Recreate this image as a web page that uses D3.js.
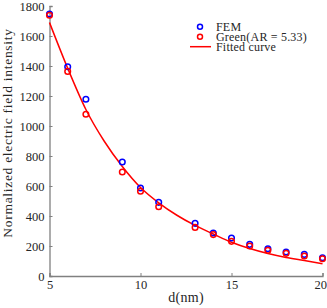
<!DOCTYPE html>
<html><head><meta charset="utf-8">
<script src="https://cdn.jsdelivr.net/npm/d3@7"></script>
<style>body{margin:0;background:#fff}svg{display:block}</style>
</head><body>
<script>
const xValues = [5, 6, 7, 9, 10, 11, 13, 14, 15, 16, 17, 18, 19, 20];
const femValues = [1747, 1395, 1178, 760, 587, 491, 351, 287, 253, 211, 182, 160, 144, 122];
const greenValues = [1738, 1364, 1078, 693, 565, 462, 324, 276, 231, 200, 171, 151, 133, 115];
const fitX = [5, 6, 7, 8, 9, 10, 11, 12, 13, 14, 15, 16, 17, 18, 19, 20];
const fitValues = [1690, 1385, 1110, 900, 730, 590, 488, 405, 337, 280, 225, 183, 150, 124, 104, 82];
const xTicks = [5, 10, 15, 20];
const yTicks = [0, 200, 400, 600, 800, 1000, 1200, 1400, 1600, 1800];
const legendLabels = ["FEM", "Green(AR = 5.33)", "Fitted curve"];

const W = 327, H = 308;
const svg = d3.select("body").append("svg").attr("width", W).attr("height", H);
const font = "'Liberation Serif', 'DejaVu Serif', serif";
const x = d3.scaleLinear().domain([5, 20]).range([49.5, 322.5]);
const y = d3.scaleLinear().domain([0, 1800]).range([276, 6]);
const axisColor = "#808080", textColor = "#262626";

// axes
const xAxis = svg.append("g").attr("transform", `translate(0,${y(0)})`)
  .call(d3.axisBottom(x).tickValues(xTicks).tickSize(-3).tickPadding(5).tickFormat(d3.format("d")));
const yAxis = svg.append("g").attr("transform", `translate(${x(5)},0)`)
  .call(d3.axisLeft(y).tickValues(yTicks).tickSize(-3).tickPadding(5).tickFormat(d3.format("d")));
[xAxis, yAxis].forEach(g => {
  g.select(".domain").attr("stroke", axisColor).attr("stroke-width", 1.3);
  g.selectAll(".tick line").attr("stroke", axisColor);
  g.selectAll("text").attr("fill", textColor).style("font-family", font).style("font-size", "12.5px");
});
xAxis.selectAll(".tick text").attr("dy", "0.6em");
xAxis.selectAll(".tick text").filter(d => d === 20).attr("text-anchor", "end").attr("x", 4);

// fitted curve
const line = d3.line().x((d, i) => x(fitX[i])).y(d => y(d)).curve(d3.curveMonotoneX);
svg.append("path").datum(fitValues).attr("d", line)
  .attr("fill", "none").attr("stroke", "#ff0000").attr("stroke-width", 1.5);

// points
svg.append("g").selectAll("circle").data(femValues).join("circle")
  .attr("cx", (d, i) => x(xValues[i])).attr("cy", d => y(d)).attr("r", 2.8)
  .attr("fill", "none").attr("stroke", "#0000ff").attr("stroke-width", 1.5);
svg.append("g").selectAll("circle").data(greenValues).join("circle")
  .attr("cx", (d, i) => x(xValues[i])).attr("cy", d => y(d)).attr("r", 2.8)
  .attr("fill", "none").attr("stroke", "#ff0000").attr("stroke-width", 1.5);

// legend
const lg = svg.append("g");
lg.append("circle").attr("cx", 200).attr("cy", 26.7).attr("r", 2.5)
  .attr("fill", "none").attr("stroke", "#0000ff").attr("stroke-width", 1.5);
lg.append("circle").attr("cx", 200).attr("cy", 36.7).attr("r", 2.5)
  .attr("fill", "none").attr("stroke", "#ff0000").attr("stroke-width", 1.5);
lg.append("line").attr("x1", 190).attr("x2", 211).attr("y1", 46.7).attr("y2", 46.7)
  .attr("stroke", "#ff0000").attr("stroke-width", 1.5);
legendLabels.forEach((t, i) => {
  lg.append("text").attr("x", 216).attr("y", 27 + i * 10).attr("dy", "0.35em")
    .attr("fill", textColor).style("font-family", font).style("font-size", "12px")
    .style("letter-spacing", "0.2px").text(t);
});

// axis labels
svg.append("text").attr("x", (x(5) + x(20)) / 2).attr("y", 297).attr("dy", "0.35em")
  .attr("text-anchor", "middle").attr("fill", textColor)
  .style("font-family", font).style("font-size", "14px").style("letter-spacing", "0.3px").text("d(nm)");
svg.append("text").attr("transform", `translate(7,${(y(0) + y(1800)) / 2 - 8}) rotate(-90)`)
  .attr("dy", "0.35em").attr("text-anchor", "middle").attr("fill", textColor)
  .style("font-family", font).style("font-size", "13.5px").style("letter-spacing", "0.7px")
  .text("Normalized electric field intensity");
</script>
</body></html>
